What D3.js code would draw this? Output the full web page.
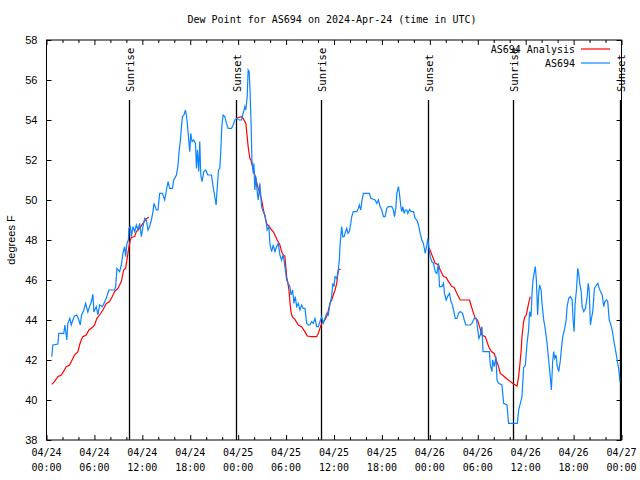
<!DOCTYPE html>
<html><head><meta charset="utf-8">
<script src="https://cdn.jsdelivr.net/npm/d3@7"></script>
<style>body{margin:0;background:#fff}svg{display:block}</style>
</head><body>
<svg id="c" width="640" height="480"></svg>
<script>
const titleText = "Dew Point for AS694 on 2024-Apr-24 (time in UTC)";
const yLabel = "degrees F";
const yTicks = [38, 40, 42, 44, 46, 48, 50, 52, 54, 56, 58];
const xMajorTickHours = [0, 6, 12, 18, 24, 30, 36, 42, 48, 54, 60, 66, 72];
const xTickDates = ["04/24","04/24","04/24","04/24","04/25","04/25","04/25","04/25","04/26","04/26","04/26","04/26","04/27"];
const xTickTimes = ["00:00","06:00","12:00","18:00","00:00","06:00","12:00","18:00","00:00","06:00","12:00","18:00","00:00"];
const sunriseHours = [10.37, 34.37, 58.37];
const sunsetHours = [23.73, 47.75, 71.8];
const seriesNames = ["AS694 Analysis", "AS694"];

// AS694 observations (hours since 2024-04-24 00:00 UTC, deg F)
const obsHours = [0.66,0.79,1.42,1.54,2.17,2.30,2.55,2.67,2.92,3.10,3.30,3.51,3.80,4.05,4.23,4.39,4.68,4.89,5.18,5.39,5.61,5.81,5.93,6.23,6.44,6.65,6.99,7.28,7.56,7.81,8.53,8.66,8.82,9.16,9.37,9.57,9.78,9.91,10.07,10.25,10.32,10.50,10.63,10.83,11.04,11.25,11.45,11.67,11.88,12.08,12.29,12.51,12.71,12.92,13.13,13.33,13.46,13.76,13.96,14.17,14.51,14.80,15.02,15.22,15.43,15.77,15.93,16.27,16.47,16.60,16.77,16.90,17.02,17.22,17.40,17.52,17.65,17.81,17.94,18.06,18.23,18.44,18.65,18.78,18.90,19.07,19.19,19.32,19.48,19.69,19.94,20.20,20.66,20.86,21.07,21.24,21.36,21.54,21.70,21.83,21.95,22.12,22.33,22.54,22.74,23.17,23.37,23.58,23.80,24.12,24.42,24.62,24.84,24.96,25.13,25.25,25.38,25.50,25.63,25.72,25.88,25.97,26.09,26.22,26.38,26.51,26.72,26.93,27.13,27.35,27.47,27.63,27.85,27.97,28.19,28.39,28.60,28.81,29.02,29.23,29.44,29.64,29.85,30.07,30.27,30.48,30.61,30.82,30.98,31.15,31.32,31.52,31.74,31.95,32.15,32.36,32.58,32.78,32.99,33.20,33.40,33.62,33.83,34.03,34.24,34.46,34.66,34.87,35.09,35.29,35.50,35.71,35.84,36.00,36.13,36.34,36.54,36.67,36.75,36.88,36.97,37.09,37.26,37.38,37.59,37.76,37.92,38.10,38.22,38.42,38.85,39.05,39.17,39.35,39.48,39.68,40.43,40.61,41.14,41.36,41.56,41.77,41.98,42.19,42.40,42.61,42.81,43.24,43.44,43.57,43.74,43.87,44.07,44.19,44.37,44.49,44.62,44.78,44.91,45.12,45.25,45.45,45.66,45.95,46.16,46.38,46.58,46.79,47.00,47.20,47.42,47.63,47.75,47.92,48.04,48.26,48.46,48.67,48.88,49.08,49.21,49.51,49.71,49.84,50.05,50.21,50.47,50.64,50.77,50.97,51.18,51.39,51.59,51.81,52.10,52.31,52.52,53.06,53.27,53.56,53.81,53.98,54.15,54.32,54.53,54.66,55.45,55.57,55.78,55.86,56.07,56.28,56.41,56.61,57.03,57.24,57.66,57.86,58.96,59.12,59.33,59.54,59.74,59.96,60.17,60.37,60.49,60.67,60.80,60.92,61.09,61.21,61.34,61.50,61.63,61.75,61.93,62.05,62.26,62.47,62.68,62.88,63.10,63.22,63.38,63.51,63.64,63.81,63.93,64.14,64.35,64.48,64.64,64.85,65.07,65.19,65.39,65.61,65.82,65.94,66.07,66.19,66.36,66.52,66.64,66.77,66.95,67.07,67.27,67.49,67.70,67.83,67.95,68.11,68.24,68.40,68.61,68.87,69.03,69.21,69.37,69.58,69.78,69.91,70.12,70.28,70.46,70.62,70.83,71.03,71.25,71.46,71.67,71.80];
const obsValues = [42.17,42.75,42.8,43.33,43.33,43.75,43.0,43.83,44.08,43.75,44.0,44.2,44.25,44.0,43.75,44.25,44.5,44.83,44.4,44.67,44.9,45.28,44.4,44.67,44.25,44.75,44.67,44.9,45.17,45.5,45.5,45.67,46.58,46.42,46.75,47.33,47.67,47.17,47.83,48.0,48.58,48.67,48.17,48.67,48.42,48.75,48.5,48.83,48.17,48.67,49.08,49.0,48.5,48.67,49.0,49.42,49.83,49.5,49.5,50.33,50.33,50.0,50.5,50.92,50.58,50.58,51.0,51.25,51.75,52.42,53.0,53.67,54.17,54.25,54.5,54.25,53.75,53.0,52.42,53.33,52.92,53.0,52.83,51.58,52.5,51.42,52.92,51.25,50.92,51.42,51.5,51.25,51.25,50.67,50.17,49.75,50.5,51.5,51.58,52.5,53.67,54.25,54.17,53.83,53.58,53.58,53.75,54.0,54.08,54.0,54.0,54.33,54.67,54.5,55.17,56.5,56.42,55.33,53.67,52.0,51.33,51.83,50.5,51.17,50.42,50.0,50.83,49.67,49.42,49.25,49.0,48.5,48.67,47.83,47.42,47.75,47.42,47.67,47.83,47.25,47.0,47.25,46.67,46.0,45.83,45.67,45.25,45.5,44.83,45.17,44.67,44.83,44.5,44.75,44.58,44.58,43.83,43.75,43.75,43.92,43.83,44.08,43.67,43.67,43.92,44.17,43.83,44.08,44.33,44.25,44.83,45.17,45.83,45.67,46.17,46.08,46.5,47.0,47.67,48.33,48.67,48.17,48.17,48.33,48.58,48.33,48.42,48.83,49.17,49.42,49.42,49.58,49.75,49.5,49.92,50.33,50.33,50.08,50.0,49.83,50.0,49.67,49.5,49.17,49.17,49.58,49.67,49.67,49.5,49.17,49.58,50.33,50.67,50.33,49.67,49.42,49.67,49.33,49.5,49.5,49.33,49.53,49.42,49.42,49.08,49.0,48.75,48.33,48.0,47.83,47.33,47.75,48.08,47.5,47.17,46.92,46.83,46.42,46.33,46.83,45.67,45.67,45.83,45.33,45.0,45.17,45.33,44.92,44.83,44.5,44.08,44.08,44.33,44.42,44.33,44.0,43.75,43.75,43.83,44.08,44.08,43.58,43.08,43.25,43.67,42.42,42.42,41.75,41.42,42.0,41.67,42.17,41.0,40.83,40.75,39.83,39.75,38.83,38.83,39.5,39.83,40.17,41.6,41.75,42.83,43.5,44.42,44.17,45.33,46.0,46.42,46.67,46.0,44.25,45.33,45.75,45.5,44.83,44.0,43.5,42.83,42.0,41.08,40.5,41.92,42.42,42.08,42.25,41.75,41.42,42.0,42.58,43.17,43.5,44.0,44.67,45.08,45.17,45.0,44.0,43.42,44.83,45.5,46.58,46.33,45.83,45.42,44.67,44.42,44.58,45.17,45.83,45.5,43.75,44.08,44.42,45.58,45.75,45.83,45.58,45.42,45.25,44.67,44.92,45.0,44.92,44.0,43.83,43.5,43.0,42.5,42.0,41.5,40.92];

// AS694 Analysis (null = gap)
const anaHours = [0.66,1.00,1.42,1.84,2.13,2.47,2.89,3.30,3.51,3.93,4.14,4.35,4.55,4.98,5.31,5.73,6.02,6.31,6.65,7.06,7.49,7.90,8.24,8.53,8.94,9.37,9.66,9.91,10.07,10.29,10.50,10.63,11.04,11.25,11.67,12.08,12.51,12.83,
  18.0,
  23.83,24.42,24.62,24.96,25.13,25.25,25.46,25.59,25.80,26.09,26.30,26.51,26.72,26.93,27.13,27.35,27.56,27.89,28.19,28.39,28.60,28.89,29.23,29.44,29.64,29.85,30.07,30.19,30.36,30.48,30.61,30.77,31.11,31.52,31.95,32.36,32.65,33.20,33.83,34.03,34.24,34.46,34.87,35.16,35.50,35.71,35.91,36.13,36.34,36.54,36.84,
  42.0,
  47.92,48.67,49.08,49.30,49.71,50.05,50.34,50.77,51.05,51.39,51.81,52.97,53.15,53.40,53.69,53.98,54.23,54.53,54.94,55.16,55.36,55.70,56.07,56.32,56.61,56.82,57.24,57.66,58.08,58.49,58.92,59.12,59.25,59.42,59.54,59.74,59.89,60.08,60.24,60.42,60.58];
const anaValues = [40.78,40.92,41.17,41.25,41.42,41.67,41.75,42.08,42.25,42.42,42.75,43.0,43.17,43.25,43.5,43.62,43.75,44.08,44.25,44.5,44.83,44.92,45.17,45.42,45.58,45.92,46.5,46.58,47.0,47.58,48.0,48.13,48.17,48.42,48.58,48.83,49.08,49.13,
  null,
  54.1,54.17,54.08,53.83,53.17,52.67,52.08,52.0,51.67,51.25,50.92,50.58,50.33,50.0,49.58,49.17,48.83,48.67,48.5,48.42,48.25,48.0,47.75,47.42,47.25,47.2,46.17,45.92,45.5,44.92,44.42,44.17,44.03,43.75,43.67,43.42,43.2,43.17,43.17,43.33,43.58,43.83,44.0,44.25,44.83,45.0,45.25,45.5,45.83,46.5,46.55,
  null,
  47.6,46.83,46.75,46.5,46.17,46.13,45.92,45.67,45.63,45.33,45.0,45.0,44.75,44.42,44.08,44.0,43.67,43.25,43.17,42.92,42.67,42.42,42.33,42.0,41.67,41.33,41.2,41.05,40.92,40.8,40.7,41.17,41.67,42.4,43.17,43.9,44.15,44.25,44.58,44.92,45.17];

const colors = {ana: "#ff0000", obs: "#0a84ff"};
const t0 = Date.UTC(2024, 3, 24, 0, 0);
const hr = h => new Date(t0 + h * 3600000);

const svg = d3.select("#c");
const L = 46.5, R = 621.5, T = 40, B = 440;
const x = d3.scaleUtc().domain([hr(0), hr(72)]).range([L, R]);
const y = d3.scaleLinear().domain([38, 58]).range([B, T]);
const mono = "'DejaVu Sans Mono', monospace";
const sans = "'Liberation Sans', Arial, sans-serif";

// title
svg.append("text").attr("x", 332).attr("y", 23).attr("text-anchor", "middle")
  .attr("font-family", mono).attr("font-size", 10).text(titleText);

// y label
svg.append("text").attr("transform", "translate(15,240) rotate(-90)").attr("text-anchor", "middle")
  .attr("font-family", sans).attr("font-size", 11).text(yLabel);

// x axis ticks every 2h
const allTicks = d3.range(0, 73, 2).map(hr);
const isMajor = d => ((d - t0) / 3600000) % 6 === 0;

function xTicks(g, axis, sign) {
  g.call(axis.tickValues(allTicks).tickSizeInner(-5 * sign).tickSizeOuter(0).tickFormat(""));
  g.select(".domain").remove();
  g.selectAll(".tick line").attr("stroke", "#000").attr("y2", d => (isMajor(d) ? -5 : -3) * sign);
}
const gxb = svg.append("g").attr("transform", `translate(0,${B})`);
xTicks(gxb, d3.axisBottom(x), 1);
const gxt = svg.append("g").attr("transform", `translate(0,${T})`);
xTicks(gxt, d3.axisTop(x), -1);

// x labels
const lab = svg.append("g").attr("font-family", mono).attr("font-size", 10).attr("text-anchor", "middle");
xMajorTickHours.forEach((h, i) => {
  const t = lab.append("text").attr("x", x(hr(h)));
  t.append("tspan").attr("x", x(hr(h))).attr("y", 456).text(xTickDates[i]);
  t.append("tspan").attr("x", x(hr(h))).attr("y", 471).text(xTickTimes[i]);
});

// y axis
const gyl = svg.append("g").attr("transform", `translate(${L},0)`)
  .call(d3.axisLeft(y).tickValues(yTicks).tickSizeInner(-5).tickSizeOuter(0).tickPadding(9).tickFormat(d3.format("d")));
gyl.select(".domain").remove();
gyl.selectAll(".tick line").attr("stroke", "#000");
gyl.selectAll(".tick text").attr("font-family", sans).attr("font-size", 11).attr("fill", "#000");
const gyr = svg.append("g").attr("transform", `translate(${R},0)`)
  .call(d3.axisRight(y).tickValues(yTicks).tickSizeInner(-5).tickSizeOuter(0).tickFormat(""));
gyr.select(".domain").remove();
gyr.selectAll(".tick line").attr("stroke", "#000");

// frame
svg.append("rect").attr("x", L).attr("y", T).attr("width", R - L).attr("height", B - T)
  .attr("fill", "none").attr("stroke", "#000").attr("stroke-width", 1);

// sun lines
const sun = [...sunriseHours.map(h => ({h, n: "Sunrise"})), ...sunsetHours.map(h => ({h, n: "Sunset"}))];
sun.forEach(s => {
  const xx = Math.round(x(hr(s.h))) + 0.5;
  svg.append("line").attr("x1", xx).attr("x2", xx).attr("y1", 100).attr("y2", B)
    .attr("stroke", "#000").attr("stroke-width", 1.3);
  svg.append("text").attr("transform", `translate(${xx + 4},92) rotate(-90)`)
    .attr("font-family", mono).attr("font-size", 10.5).attr("text-anchor", "start").text(s.n);
});

// lines
const line = d3.line().defined(d => d[1] != null).x(d => x(hr(d[0]))).y(d => y(d[1]));
const anaData = anaHours.map((h, i) => [h, anaValues[i]]);
const obsData = obsHours.map((h, i) => [h, obsValues[i]]);
svg.append("path").datum(anaData).attr("d", line).attr("fill", "none")
  .attr("stroke", colors.ana).attr("stroke-width", 1.2);
svg.append("path").datum(obsData).attr("d", line).attr("fill", "none")
  .attr("stroke", colors.obs).attr("stroke-width", 1.2);

// legend
const leg = [{n: seriesNames[0], c: colors.ana, y: 49}, {n: seriesNames[1], c: colors.obs, y: 63}];
leg.forEach(l => {
  svg.append("text").attr("x", 575).attr("y", l.y + 4).attr("text-anchor", "end")
    .attr("font-family", mono).attr("font-size", 10).text(l.n);
  svg.append("line").attr("x1", 581).attr("x2", 610).attr("y1", l.y).attr("y2", l.y)
    .attr("stroke", l.c).attr("stroke-width", 1.2);
});
</script>
</body></html>
